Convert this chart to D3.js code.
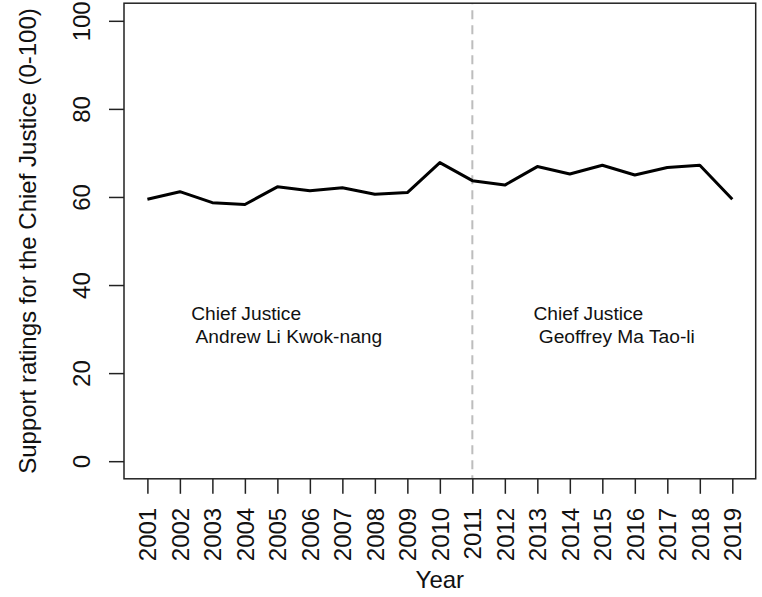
<!DOCTYPE html>
<html>
<head>
<meta charset="utf-8">
<script src="https://cdn.jsdelivr.net/npm/d3@7"></script>
<style>
  html, body { margin: 0; padding: 0; background: #fff; }
  svg { display: block; }
  text { font-family: "Liberation Sans", Arial, Helvetica, sans-serif; fill: #111; }
</style>
</head>
<body>
<svg id="chart" width="762" height="597"></svg>
<script>
// Annual support ratings for the Chief Justice (0-100)
const years = [2001, 2002, 2003, 2004, 2005, 2006, 2007, 2008, 2009, 2010,
               2011, 2012, 2013, 2014, 2015, 2016, 2017, 2018, 2019];
const ratings = [59.5, 61.2, 58.7, 58.3, 62.3, 61.4, 62.1, 60.6, 61.0, 67.8,
                 63.7, 62.7, 66.9, 65.2, 67.2, 65.0, 66.7, 67.2, 59.5];
const yTicks = [0, 20, 40, 60, 80, 100];

// Year in which the new Chief Justice took office
const changeYear = 2011;

// Term labels: left edge (year), vertical centre (rating), lines
const termX = [2002.35, 2012.88];
const termY = [31, 31];
const termLines = [
  ["Chief Justice", " Andrew Li Kwok-nang"],
  ["Chief Justice", " Geoffrey Ma Tao-li"]
];

const svg = d3.select("#chart");
const plot = { left: 124, right: 755.7, top: 3.2, bottom: 478.8 };

// Axis ranges padded by 4% of the span on each side
const xPad = (d3.max(years) - d3.min(years)) * 0.04;
const x = d3.scaleLinear()
  .domain([d3.min(years) - xPad, d3.max(years) + xPad])
  .range([plot.left, plot.right]);
const y = d3.scaleLinear()
  .domain([-4, 104])
  .range([plot.bottom, plot.top]);

const baseFont = 24;
const smallFont = 19.2;

// Dashed marker at the change of office
svg.append("line")
  .attr("x1", x(changeYear)).attr("x2", x(changeYear))
  .attr("y1", plot.top).attr("y2", plot.bottom)
  .attr("stroke", "#bdbdbd")
  .attr("stroke-width", 2)
  .attr("stroke-dasharray", "9,6")
  .attr("stroke-dashoffset", 8);

// Rating line
svg.append("path")
  .datum(years.map((yr, i) => [yr, ratings[i]]))
  .attr("fill", "none")
  .attr("stroke", "#000")
  .attr("stroke-width", 3)
  .attr("stroke-linejoin", "round")
  .attr("d", d3.line().x(d => x(d[0])).y(d => y(d[1])));

// Term annotations
termLines.forEach((lines, k) => {
  const lh = smallFont * 1.18;
  const firstBase = y(termY[k]) - lh * (lines.length - 1) / 2 + smallFont * 0.35;
  const t = svg.append("text")
    .attr("xml:space", "preserve")
    .style("white-space", "pre")
    .attr("font-size", smallFont);
  lines.forEach((ln, j) => {
    t.append("tspan")
      .attr("x", x(termX[k]))
      .attr("y", firstBase + j * lh)
      .text(ln);
  });
});

// Plot frame
svg.append("rect")
  .attr("x", plot.left).attr("y", plot.top)
  .attr("width", plot.right - plot.left)
  .attr("height", plot.bottom - plot.top)
  .attr("fill", "none")
  .attr("stroke", "#222")
  .attr("stroke-width", 1.5);

// Bottom axis: one tick per year, labels rotated
const xAxis = svg.append("g")
  .attr("transform", `translate(0,${plot.bottom})`)
  .call(d3.axisBottom(x).tickValues(years).tickFormat(d3.format("d"))
        .tickSize(15).tickSizeOuter(0));
xAxis.select(".domain").remove();
xAxis.selectAll(".tick line").attr("stroke", "#222").attr("stroke-width", 1.5);
xAxis.selectAll(".tick text")
  .attr("font-size", baseFont)
  .attr("font-family", null)
  .attr("fill", "#111")
  .attr("text-anchor", "end")
  .attr("transform", "rotate(-90)")
  .attr("x", -29)
  .attr("y", 0)
  .attr("dy", "0.35em");

// Left axis, labels parallel to the axis
const yAxis = svg.append("g")
  .attr("transform", `translate(${plot.left},0)`)
  .call(d3.axisLeft(y).tickValues(yTicks).tickSize(15).tickSizeOuter(0));
yAxis.select(".domain").remove();
yAxis.selectAll(".tick line").attr("stroke", "#222").attr("stroke-width", 1.5);
yAxis.selectAll(".tick text")
  .attr("font-size", baseFont)
  .attr("font-family", null)
  .attr("fill", "#111")
  .attr("text-anchor", "middle")
  .attr("transform", "rotate(-90)")
  .attr("x", 0)
  .attr("y", -34)
  .attr("dy", 0);

// Axis titles
svg.append("text")
  .attr("x", (plot.left + plot.right) / 2)
  .attr("y", 588)
  .attr("text-anchor", "middle")
  .attr("font-size", baseFont)
  .text("Year");

svg.append("text")
  .attr("transform", `translate(36,${(plot.top + plot.bottom) / 2}) rotate(-90)`)
  .attr("text-anchor", "middle")
  .attr("font-size", baseFont)
  .text("Support ratings for the Chief Justice (0-100)");
</script>
</body>
</html>
